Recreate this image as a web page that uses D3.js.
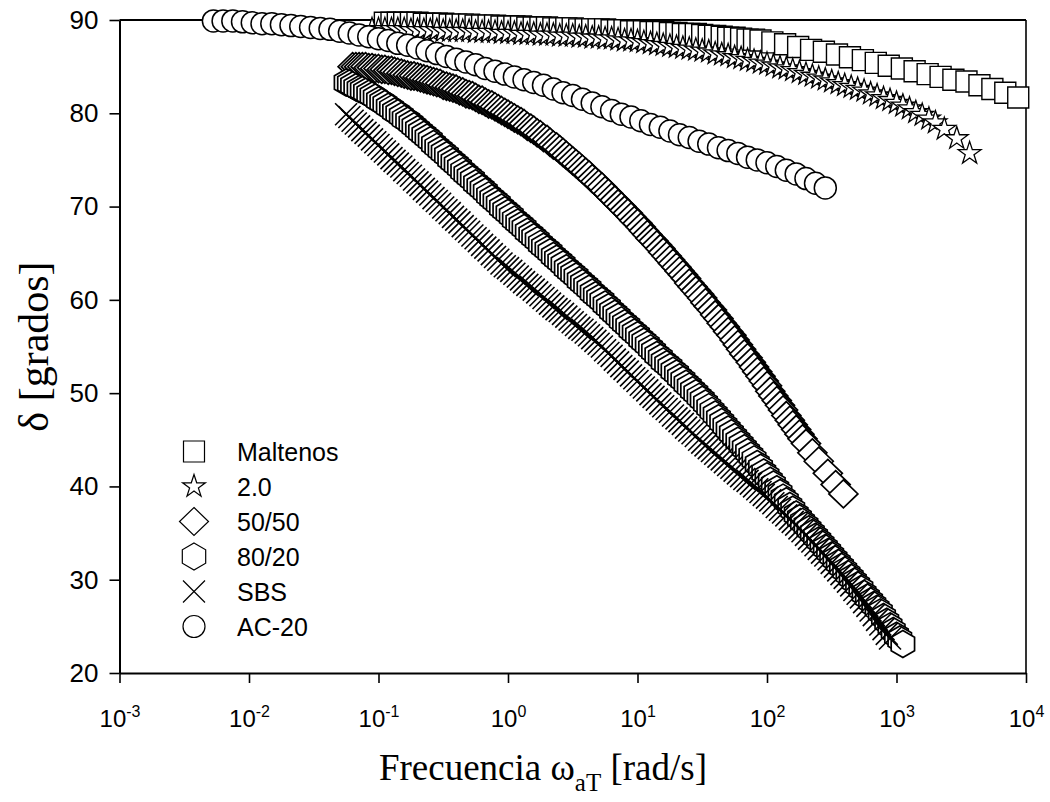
<!DOCTYPE html>
<html><head><meta charset="utf-8">
<script src="https://cdn.jsdelivr.net/npm/d3@7"></script>
<style>body{margin:0;background:#fff}svg{display:block}</style>
</head><body>
<svg id="c" width="1050" height="802"></svg>
<script>
// ---- data: [frequency (rad/s), delta (degrees)] ----
const seriesNames = ["Maltenos", "2.0", "50/50", "80/20", "SBS", "AC-20"];
const maltenos = [[0.112,89.7],[0.126,89.7],[0.141,89.7],[0.158,89.7],[0.178,89.7],[0.200,89.7],[0.224,89.6],[0.251,89.6],[0.282,89.6],[0.316,89.6],[0.355,89.5],[0.398,89.5],[0.447,89.5],[0.501,89.5],[0.562,89.4],[0.631,89.4],[0.708,89.4],[0.794,89.4],[0.891,89.3],[1.00,89.3],[1.12,89.3],[1.26,89.3],[1.41,89.2],[1.58,89.2],[1.78,89.2],[2.00,89.2],[2.24,89.1],[2.51,89.1],[2.82,89.1],[3.16,89.1],[3.55,89.0],[3.98,89.0],[4.47,89.0],[5.01,89.0],[5.62,89.0],[6.31,88.9],[7.08,88.9],[7.94,88.9],[8.91,88.8],[10.0,88.8],[11.2,88.8],[12.6,88.7],[14.1,88.7],[15.8,88.7],[17.8,88.6],[20.0,88.6],[22.4,88.5],[25.1,88.5],[28.2,88.5],[31.6,88.4],[35.5,88.3],[39.8,88.3],[44.7,88.2],[50.1,88.1],[56.2,88.1],[63.1,88.0],[70.8,87.9],[79.4,87.9],[89.1,87.8],[110,87.6],[138,87.4],[174,87.1],[219,86.8],[275,86.6],[347,86.3],[437,86.0],[550,85.7],[692,85.4],[871,85.1],[1100,84.8],[1380,84.5],[1740,84.2],[2190,83.9],[2750,83.6],[3470,83.4],[4370,83.0],[5500,82.6],[6920,82.2],[8710,81.7]];
const s20 = [[0.0891,89.0],[0.100,89.0],[0.112,89.0],[0.126,89.0],[0.141,89.0],[0.158,89.0],[0.178,88.9],[0.200,88.9],[0.224,88.9],[0.251,88.9],[0.282,88.9],[0.316,88.8],[0.355,88.8],[0.398,88.8],[0.447,88.8],[0.501,88.8],[0.562,88.7],[0.631,88.7],[0.708,88.7],[0.794,88.7],[0.891,88.6],[1.00,88.6],[1.12,88.6],[1.26,88.5],[1.41,88.5],[1.58,88.5],[1.78,88.4],[2.00,88.4],[2.24,88.4],[2.51,88.3],[2.82,88.3],[3.16,88.3],[3.55,88.2],[3.98,88.2],[4.47,88.1],[5.01,88.1],[5.62,88.0],[6.31,88.0],[7.08,87.9],[7.94,87.8],[8.91,87.8],[10.0,87.7],[11.2,87.6],[12.6,87.5],[14.1,87.4],[15.8,87.3],[17.8,87.2],[20.0,87.1],[22.4,87.0],[25.1,86.9],[28.2,86.8],[31.6,86.7],[35.5,86.6],[39.8,86.4],[44.7,86.3],[50.1,86.2],[56.2,86.0],[63.1,85.9],[70.8,85.7],[79.4,85.6],[89.1,85.4],[100,85.3],[112,85.1],[126,84.9],[141,84.8],[158,84.6],[178,84.4],[200,84.2],[224,84.0],[251,83.8],[282,83.6],[316,83.4],[355,83.2],[398,83.0],[447,82.8],[501,82.6],[562,82.4],[631,82.1],[708,81.9],[794,81.6],[891,81.4],[1000,81.1],[1120,80.8],[1260,80.5],[1410,80.1],[1580,79.8],[1780,79.4],[2000,79.0],[2340,78.3],[2920,77.3],[3670,75.7]];
const s5050 = [[0.0631,85.0],[0.0668,85.0],[0.0708,85.0],[0.0750,85.0],[0.0794,85.0],[0.0841,84.9],[0.0891,84.9],[0.0944,84.8],[0.100,84.8],[0.106,84.7],[0.112,84.7],[0.119,84.6],[0.126,84.6],[0.133,84.5],[0.141,84.4],[0.150,84.3],[0.158,84.2],[0.168,84.1],[0.178,84.0],[0.188,84.0],[0.200,83.9],[0.211,83.8],[0.224,83.7],[0.237,83.6],[0.251,83.5],[0.266,83.4],[0.282,83.3],[0.299,83.2],[0.316,83.0],[0.335,82.9],[0.355,82.8],[0.376,82.7],[0.398,82.6],[0.422,82.4],[0.447,82.3],[0.473,82.1],[0.501,82.0],[0.531,81.9],[0.562,81.7],[0.596,81.5],[0.631,81.4],[0.668,81.2],[0.708,81.0],[0.750,80.9],[0.794,80.7],[0.841,80.5],[0.891,80.3],[0.944,80.1],[1.00,79.9],[1.06,79.7],[1.12,79.5],[1.19,79.3],[1.26,79.1],[1.33,78.9],[1.41,78.6],[1.50,78.4],[1.58,78.2],[1.68,77.9],[1.78,77.7],[1.88,77.4],[2.00,77.2],[2.11,76.9],[2.24,76.6],[2.37,76.4],[2.51,76.1],[2.66,75.8],[2.82,75.5],[2.99,75.2],[3.16,74.9],[3.35,74.6],[3.55,74.3],[3.76,74.0],[3.98,73.7],[4.22,73.4],[4.47,73.0],[4.73,72.7],[5.01,72.4],[5.31,72.1],[5.62,71.7],[5.96,71.4],[6.31,71.0],[6.68,70.7],[7.08,70.3],[7.50,70.0],[7.94,69.6],[8.41,69.3],[8.91,68.9],[9.44,68.5],[10.0,68.2],[10.6,67.8],[11.2,67.4],[11.9,67.0],[12.6,66.6],[13.3,66.3],[14.1,65.9],[15.0,65.5],[15.8,65.1],[16.8,64.7],[17.8,64.3],[18.8,63.9],[20.0,63.5],[21.1,63.1],[22.4,62.7],[23.7,62.3],[25.1,61.8],[26.6,61.4],[28.2,61.0],[29.9,60.6],[31.6,60.2],[33.5,59.7],[35.5,59.3],[37.6,58.9],[39.8,58.4],[42.2,58.0],[44.7,57.5],[47.3,57.1],[50.1,56.6],[53.1,56.2],[56.2,55.7],[59.6,55.2],[63.1,54.7],[66.8,54.2],[70.8,53.8],[75.0,53.3],[79.4,52.8],[84.1,52.3],[89.1,51.8],[94.4,51.3],[100,50.8],[106,50.2],[112,49.7],[119,49.2],[126,48.7],[133,48.2],[141,47.6],[150,47.1],[158,46.6],[168,46.1],[178,45.6],[188,45.1],[200,44.6],[224,43.6],[251,42.7],[295,41.4],[339,40.2],[389,39.2]];
const s8020 = [[0.0562,83.3],[0.0596,83.2],[0.0631,83.0],[0.0668,82.8],[0.0708,82.6],[0.0750,82.5],[0.0794,82.3],[0.0841,82.1],[0.0891,81.9],[0.0944,81.7],[0.100,81.4],[0.106,81.2],[0.112,81.0],[0.119,80.7],[0.126,80.5],[0.133,80.2],[0.141,80.0],[0.150,79.7],[0.158,79.4],[0.168,79.2],[0.178,78.9],[0.188,78.6],[0.200,78.3],[0.211,78.0],[0.224,77.7],[0.237,77.4],[0.251,77.1],[0.266,76.7],[0.282,76.4],[0.299,76.1],[0.316,75.8],[0.335,75.5],[0.355,75.1],[0.376,74.8],[0.398,74.5],[0.422,74.2],[0.447,73.8],[0.473,73.5],[0.501,73.2],[0.531,72.9],[0.562,72.5],[0.596,72.2],[0.631,71.9],[0.668,71.6],[0.708,71.2],[0.750,70.9],[0.794,70.6],[0.841,70.3],[0.891,69.9],[0.944,69.6],[1.00,69.3],[1.06,69.0],[1.12,68.6],[1.19,68.3],[1.26,68.0],[1.33,67.7],[1.41,67.3],[1.50,67.0],[1.58,66.7],[1.68,66.4],[1.78,66.0],[1.88,65.7],[2.00,65.4],[2.11,65.1],[2.24,64.7],[2.37,64.4],[2.51,64.1],[2.66,63.8],[2.82,63.4],[2.99,63.1],[3.16,62.8],[3.35,62.5],[3.55,62.1],[3.76,61.8],[3.98,61.5],[4.22,61.2],[4.47,60.8],[4.73,60.5],[5.01,60.2],[5.31,59.9],[5.62,59.5],[5.96,59.2],[6.31,58.8],[6.68,58.5],[7.08,58.2],[7.50,57.8],[7.94,57.5],[8.41,57.2],[8.91,56.8],[9.44,56.5],[10.0,56.2],[10.6,55.8],[11.2,55.5],[11.9,55.2],[12.6,54.8],[13.3,54.5],[14.1,54.1],[15.0,53.8],[15.8,53.4],[16.8,53.1],[17.8,52.8],[18.8,52.4],[20.0,52.1],[21.1,51.7],[22.4,51.4],[23.7,51.0],[25.1,50.7],[26.6,50.3],[28.2,50.0],[29.9,49.6],[31.6,49.3],[33.5,48.9],[35.5,48.5],[37.6,48.1],[39.8,47.7],[42.2,47.3],[44.7,46.9],[47.3,46.5],[50.1,46.1],[53.1,45.7],[56.2,45.3],[59.6,44.9],[63.1,44.5],[66.8,44.1],[70.8,43.7],[75.0,43.3],[79.4,42.9],[84.1,42.4],[89.1,42.0],[94.4,41.5],[100,41.1],[106,40.6],[112,40.2],[119,39.7],[126,39.3],[133,38.8],[141,38.4],[150,37.9],[158,37.5],[168,37.0],[178,36.6],[188,36.2],[200,35.8],[211,35.4],[224,35.0],[237,34.6],[251,34.2],[266,33.8],[282,33.4],[299,33.0],[316,32.6],[335,32.2],[355,31.8],[376,31.4],[398,31.0],[422,30.6],[447,30.2],[473,29.8],[501,29.4],[531,29.0],[562,28.5],[596,28.1],[631,27.7],[668,27.3],[708,26.9],[750,26.5],[794,26.0],[841,25.5],[891,25.0],[944,24.5],[1000,24.0],[1060,23.6],[1120,23.1]];
const sbs = [[0.0562,79.9],[0.0596,79.6],[0.0631,79.2],[0.0668,78.9],[0.0708,78.6],[0.0750,78.2],[0.0794,77.9],[0.0841,77.6],[0.0891,77.2],[0.0944,76.9],[0.100,76.6],[0.106,76.2],[0.112,75.9],[0.119,75.6],[0.126,75.2],[0.133,74.9],[0.141,74.6],[0.150,74.3],[0.158,73.9],[0.168,73.6],[0.178,73.3],[0.188,72.9],[0.200,72.6],[0.211,72.3],[0.224,71.9],[0.237,71.6],[0.251,71.3],[0.266,70.9],[0.282,70.6],[0.299,70.3],[0.316,69.9],[0.335,69.6],[0.355,69.3],[0.376,68.9],[0.398,68.6],[0.422,68.3],[0.447,67.9],[0.473,67.6],[0.501,67.3],[0.531,66.9],[0.562,66.6],[0.596,66.3],[0.631,65.9],[0.668,65.6],[0.708,65.3],[0.750,64.9],[0.794,64.6],[0.841,64.3],[0.891,63.9],[0.944,63.6],[1.00,63.4],[1.06,63.1],[1.12,62.8],[1.19,62.5],[1.26,62.2],[1.33,61.9],[1.41,61.6],[1.50,61.4],[1.58,61.1],[1.68,60.8],[1.78,60.5],[1.88,60.2],[2.00,59.9],[2.11,59.6],[2.24,59.3],[2.37,59.0],[2.51,58.8],[2.66,58.5],[2.82,58.2],[2.99,57.9],[3.16,57.6],[3.35,57.3],[3.55,57.0],[3.76,56.8],[3.98,56.5],[4.22,56.2],[4.47,55.9],[4.73,55.6],[5.01,55.3],[5.31,55.0],[5.62,54.6],[5.96,54.3],[6.31,54.0],[6.68,53.6],[7.08,53.3],[7.50,52.9],[7.94,52.6],[8.41,52.3],[8.91,51.9],[9.44,51.6],[10.0,51.3],[10.6,50.9],[11.2,50.6],[11.9,50.3],[12.6,49.9],[13.3,49.6],[14.1,49.3],[15.0,48.9],[15.8,48.6],[16.8,48.3],[17.8,48.0],[18.8,47.6],[20.0,47.3],[21.1,47.0],[22.4,46.7],[23.7,46.3],[25.1,46.0],[26.6,45.7],[28.2,45.4],[29.9,45.0],[31.6,44.7],[33.5,44.4],[35.5,44.1],[37.6,43.8],[39.8,43.5],[42.2,43.2],[44.7,42.9],[47.3,42.6],[50.1,42.3],[53.1,42.0],[56.2,41.7],[59.6,41.4],[63.1,41.1],[66.8,40.8],[70.8,40.6],[75.0,40.3],[79.4,40.0],[84.1,39.7],[89.1,39.4],[94.4,39.1],[100,38.8],[106,38.5],[112,38.2],[119,37.8],[126,37.5],[133,37.2],[141,36.9],[150,36.5],[158,36.2],[168,35.9],[178,35.5],[188,35.2],[200,34.8],[211,34.4],[224,34.1],[237,33.7],[251,33.3],[266,32.9],[282,32.6],[299,32.2],[316,31.8],[335,31.4],[355,31.0],[376,30.6],[398,30.2],[422,29.8],[447,29.4],[473,28.9],[501,28.5],[531,28.1],[562,27.6],[596,27.2],[631,26.7],[668,26.2],[708,25.7],[750,25.2],[794,24.7],[841,24.2],[891,23.7]];
const ac20 = [[0.00531,89.9],[0.00631,89.9],[0.00750,89.9],[0.00891,89.8],[0.0106,89.7],[0.0126,89.6],[0.0150,89.6],[0.0178,89.5],[0.0211,89.4],[0.0251,89.3],[0.0299,89.2],[0.0355,89.1],[0.0422,89.0],[0.0501,88.8],[0.0596,88.6],[0.0708,88.4],[0.0841,88.2],[0.100,88.0],[0.119,87.8],[0.141,87.5],[0.168,87.3],[0.200,87.0],[0.237,86.7],[0.282,86.4],[0.335,86.1],[0.398,85.8],[0.473,85.5],[0.562,85.2],[0.668,84.8],[0.794,84.5],[0.944,84.2],[1.12,83.9],[1.33,83.6],[1.58,83.3],[1.88,83.0],[2.24,82.6],[2.66,82.2],[3.16,81.9],[3.76,81.5],[4.47,81.1],[5.31,80.7],[6.31,80.3],[7.50,79.9],[8.91,79.6],[10.6,79.2],[12.6,78.8],[15.0,78.5],[17.8,78.1],[21.1,77.7],[25.1,77.4],[29.9,77.0],[35.5,76.7],[42.2,76.3],[50.1,76.0],[59.6,75.7],[70.8,75.3],[84.1,75.0],[100,74.7],[119,74.3],[141,73.9],[168,73.5],[200,73.0],[237,72.5],[282,72.0]];
const yTicks = [20, 30, 40, 50, 60, 70, 80, 90];
const xTickExponents = [-3, -2, -1, 0, 1, 2, 3, 4];

// ---- setup ----
const svg = d3.select("#c");
svg.append("rect").attr("width", 1050).attr("height", 802).attr("fill", "#fff");
const x = d3.scaleLog().domain([1e-3, 1e4]).range([119.5, 1026]);
const y = d3.scaleLinear().domain([20, 90]).range([673, 20]);
const SANS = "'Liberation Sans', Arial, sans-serif";
const SERIF = "'Liberation Serif', 'Times New Roman', serif";

function symbolPath(kind) {
  const p = d3.path();
  if (kind === "square") { p.rect(-10.5, -10.5, 21, 21); }
  else if (kind === "star") {
    for (let i = 0; i < 10; i++) {
      const a = -Math.PI / 2 + i * Math.PI / 5, r = i % 2 ? 4.6 : 12;
      if (i === 0) p.moveTo(r * Math.cos(a), r * Math.sin(a)); else p.lineTo(r * Math.cos(a), r * Math.sin(a));
    }
    p.closePath();
  }
  else if (kind === "diamond") { p.moveTo(0, -14); p.lineTo(14.5, 0); p.lineTo(0, 14); p.lineTo(-14.5, 0); p.closePath(); }
  else if (kind === "hexagon") {
    for (let i = 0; i < 6; i++) {
      const a = -Math.PI / 2 + i * Math.PI / 3, r = 13.5;
      if (i === 0) p.moveTo(r * Math.cos(a), r * Math.sin(a)); else p.lineTo(r * Math.cos(a), r * Math.sin(a));
    }
    p.closePath();
  }
  else if (kind === "cross") { p.moveTo(-11, -11); p.lineTo(11, 11); p.moveTo(-11, 11); p.lineTo(11, -11); }
  else if (kind === "circle") { p.moveTo(11, 0); p.arc(0, 0, 11, 0, 2 * Math.PI); p.closePath(); }
  return p.toString();
}

const series = [
  { name: seriesNames[0], data: maltenos, kind: "square", sw: 1.4 },
  { name: seriesNames[1], data: s20, kind: "star", sw: 1.3 },
  { name: seriesNames[2], data: s5050, kind: "diamond", sw: 1.7 },
  { name: seriesNames[3], data: s8020, kind: "hexagon", sw: 1.7 },
  { name: seriesNames[4], data: sbs, kind: "cross", sw: 1.6 },
  { name: seriesNames[5], data: ac20, kind: "circle", sw: 1.5 }
];

// ---- axes ----
const yAxis = svg.append("g").attr("transform", "translate(119.5,0)")
  .call(d3.axisLeft(y).tickValues(yTicks).tickSize(10).tickSizeOuter(0).tickPadding(11).tickFormat(d3.format("d")));
yAxis.select(".domain").attr("stroke", "#000").attr("stroke-width", 2);
yAxis.selectAll(".tick line").attr("stroke", "#000").attr("stroke-width", 1.6);
yAxis.selectAll(".tick text").attr("font-family", SANS).attr("font-size", 26).attr("fill", "#000");

const xAxis = svg.append("g").attr("transform", "translate(0,673)")
  .call(d3.axisBottom(x).tickValues(xTickExponents.map(e => Math.pow(10, e))).tickSize(10).tickSizeOuter(0).tickFormat(""));
xAxis.select(".domain").attr("stroke", "#000").attr("stroke-width", 2.2);
xAxis.selectAll(".tick line").attr("stroke", "#000").attr("stroke-width", 1.6);
xAxis.selectAll(".tick text").remove();
xAxis.selectAll(".tick").each(function (d) {
  const t = d3.select(this).append("text").attr("y", 54).attr("text-anchor", "middle")
    .attr("font-family", SANS).attr("font-size", 24).attr("fill", "#000");
  t.append("tspan").text("10");
  t.append("tspan").attr("font-size", 16).attr("dy", -10).text(String(Math.round(Math.log10(d))));
});

// frame (top, right)
svg.append("line").attr("x1", x(1e-3)).attr("x2", x(1e4)).attr("y1", y(90)).attr("y2", y(90)).attr("stroke", "#000").attr("stroke-width", 1.8);
svg.append("line").attr("x1", x(1e4)).attr("x2", x(1e4)).attr("y1", y(90)).attr("y2", y(20)).attr("stroke", "#000").attr("stroke-width", 1.6);

// ---- marks ----
series.forEach(s => {
  const path = symbolPath(s.kind);
  svg.append("g").selectAll("path").data(s.data).join("path")
    .attr("d", path)
    .attr("transform", d => `translate(${x(d[0])},${y(d[1])})`)
    .attr("fill", s.kind === "cross" ? "none" : "#fff")
    .attr("stroke", "#000").attr("stroke-width", s.sw);
});

// ---- legend ----
const legend = svg.append("g").attr("transform", "translate(194,451.5)");
series.forEach((s, i) => {
  const row = legend.append("g").attr("transform", `translate(0,${i * 35})`);
  row.append("path").attr("d", symbolPath(s.kind)).attr("fill", s.kind === "cross" ? "none" : "#fff")
    .attr("stroke", "#000").attr("stroke-width", 1.2);
  row.append("text").attr("x", 43).attr("y", 9).attr("font-family", SANS).attr("font-size", 25)
    .attr("fill", "#000").text(s.name);
});

// ---- axis titles ----
const xt = svg.append("text").attr("x", 543).attr("y", 780).attr("text-anchor", "middle")
  .attr("font-family", SERIF).attr("font-size", 37).attr("fill", "#000");
xt.append("tspan").text("Frecuencia ω");
xt.append("tspan").attr("font-size", 25).attr("dy", 11).text("aT");
xt.append("tspan").attr("dy", -11).text(" [rad/s]");

svg.append("text").attr("transform", `translate(48,${(y(20) + y(90)) / 2}) rotate(-90)`)
  .attr("text-anchor", "middle").attr("font-family", SERIF).attr("font-size", 42).attr("fill", "#000")
  .text("δ [grados]");
</script>
</body></html>
